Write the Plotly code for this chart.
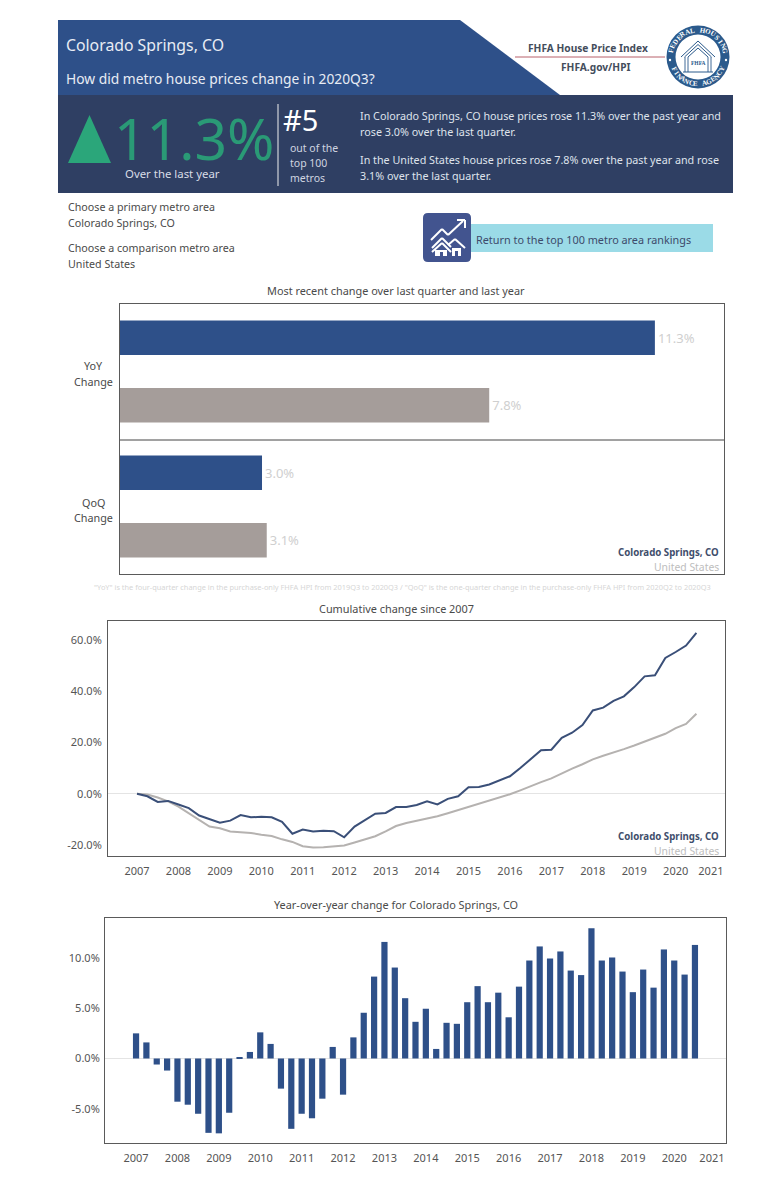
import math
import plotly.graph_objects as go

W, H = 783, 1200
FONT = "Noto Sans"

# ---------- data ----------
metrics = ["YoY", "QoQ"]
primary_name = "Colorado Springs, CO"
compare_name = "United States"
primary_recent = [11.3, 3.0]
compare_recent = [7.8, 3.1]

quarters = [y + q / 4 for y in range(2007, 2021) for q in range(4)][:55]

cum_primary = [0, -1, -3.2, -2.8, -4.2, -5.6, -8.5, -10, -11.3, -10.5, -8.3, -9.2,
               -9, -9.2, -11, -15.6, -14, -14.7, -14.4, -14.6, -17, -12.8, -10.4, -7.8,
               -7.5, -5.2, -5.2, -4.4, -3, -4.2, -2, -1, 2.5, 2.6, 3.6, 5.3,
               6.8, 10, 13.5, 17, 17.2, 21.8, 23.8, 26.8, 32.5, 33.6, 36.2, 38,
               41.6, 45.8, 46.2, 53, 55.3, 57.8, 62.8]
cum_compare = [0, -0.3, -1.5, -3, -5, -7.5, -10.3, -12.8, -13.5, -14.7, -15, -15.3,
               -16, -16.5, -17.8, -18.8, -20.5, -21, -20.9, -20.6, -20.2, -19, -17.8, -16.6,
               -14.7, -12.6, -11.4, -10.5, -9.6, -8.8, -7.6, -6.4, -5.2, -4, -2.8, -1.4,
               -0.2, 1.3, 3, 4.5, 6, 8, 9.8, 11.5, 13.4, 14.8, 16, 17.4,
               18.8, 20.3, 21.6, 23.4, 25.6, 27.2, 31.2]
yoy_primary = [2.5, 1.6, -0.6, -1.2, -4.3, -4.6, -5.5, -7.4, -7.45, -5.4, 0.1, 0.65,
               2.6, 1.45, -3, -7, -5.5, -5.95, -4, 1.15, -3.6, 2.1, 4.55, 8.15,
               11.6, 9.05, 6, 3.65, 4.95, 0.95, 3.55, 3.45, 5.6, 7.2, 5.6, 6.55,
               4.1, 7.15, 9.75, 11.15, 9.95, 10.65, 8.75, 8.3, 12.95, 9.75, 10.05, 8.65,
               6.6, 8.85, 7.05, 10.85, 9.75, 8.35, 11.3]

year_labels = [str(y) for y in range(2007, 2022)]
cum_tick_vals = [-20, 0, 20, 40, 60]
yoy_tick_vals = [-5, 0, 5, 10]

# ---------- colours ----------
NAVY = "#2e5089"
BAND = "#2f3f63"
LINE_NAVY = "#3a4f78"
GREY_BAR = "#a59d9a"
GREY_LINE = "#b5b2b0"
TXT = "#4a4a4a"
FRAME = "#5a5a5a"
LOGO = "#2b5a8c"


def px(x):
    return x / W


def py(y):
    return 1 - y / H


shapes, ann = [], []


def poly(points, fill, line=None, lw=0):
    path = "M " + " L ".join(f"{px(a):.5f},{py(b):.5f}" for a, b in points) + " Z"
    shapes.append(dict(type="path", xref="paper", yref="paper", path=path, fillcolor=fill,
                       line=dict(color=line or fill, width=lw), layer="below"))


def seg(x0, y0, x1, y1, color, lw=1, layer="above"):
    shapes.append(dict(type="line", xref="paper", yref="paper", x0=px(x0), y0=py(y0), x1=px(x1), y1=py(y1),
                       line=dict(color=color, width=lw), layer=layer))


def disc(x, y, r, color):
    shapes.append(dict(type="circle", xref="paper", yref="paper", x0=px(x - r), x1=px(x + r), y0=py(y + r), y1=py(y - r),
                       fillcolor=color, line=dict(color=color, width=0)))


def text(x, y, s, size=11, color=TXT, anchor="left", angle=0, family=FONT):
    ann.append(dict(xref="paper", yref="paper", x=px(x), y=py(y), text=s, showarrow=False, xanchor=anchor,
                    yanchor="middle", textangle=angle, font=dict(size=size, color=color, family=family),
                    borderpad=0, borderwidth=0))


# ---------- header ----------
poly([(58, 20), (460, 20), (560, 95), (58, 95)], NAVY)
poly([(58, 95), (733, 95), (733, 193), (58, 193)], BAND)
text(66, 45, primary_name, 15.8, "#e8ecf4")
text(66, 79, "How did metro house prices change in 2020Q3?", 13.8, "#e8ecf4")
poly([(68, 163), (111, 163), (89.5, 115)], "#2ba67a")
text(114, 138, "11.3%", 57, "#2a9a76")
text(172, 173, "Over the last year", 11.4, "#d8dce6", "center")
seg(278, 104, 278, 186, "#f0f0f0", 1)
text(283, 120, "#5", 29, "#ffffff")
text(290, 148, "out of the", 10.5, "#d0d5e0")
text(290, 163, "top 100", 10.5, "#d0d5e0")
text(290, 178, "metros", 10.5, "#d0d5e0")
text(360, 116, "In Colorado Springs, CO house prices rose 11.3% over the past year and", 10.75, "#dfe3ec")
text(360, 132, "rose 3.0% over the last quarter.", 10.75, "#dfe3ec")
text(360, 160, "In the United States house prices rose 7.8% over the past year and rose", 10.75, "#dfe3ec")
text(360, 176, "3.1% over the last quarter.", 10.75, "#dfe3ec")

# FHFA block
text(587.5, 48, "<b>FHFA House Price Index</b>", 10.2, "#444d5c", "center")
text(595, 67, "<b>FHFA.gov/HPI</b>", 10.2, "#444d5c", "center")
seg(515, 57, 665, 57, "#b8616a", 1)
cx, cy = 698, 57
disc(cx, cy, 31.5, LOGO)
disc(cx, cy, 22.5, "#ffffff")


def ring(s, start, stop, bottom=False):
    n = len(s)
    for i, ch in enumerate(s):
        if ch == " ":
            continue
        a = math.radians(start + (stop - start) * i / (n - 1))
        x, y = cx + 27 * math.sin(a), cy - 27 * math.cos(a)
        rot = math.degrees(a) + (180 if bottom else 0)
        text(x, y, f"<b>{ch}</b>", 7, "#ffffff", "center", rot, "Liberation Serif")


ring("FEDERAL HOUSING", -78, 78)
ring("FINANCE AGENCY", 243, 117, True)
disc(cx - 28, cy + 3, 1.2, "#ffffff")
disc(cx + 28, cy + 3, 1.2, "#ffffff")
for dx in (-13, -10, 10, 13):
    seg(cx + dx, 57, cx + dx, 72, LOGO, 0.9)
seg(cx - 15, 72, cx + 15, 72, LOGO, 1)
for off, lw in ((0, 1), (3.5, 1), (7, 1)):
    seg(cx - 17 + off, 57, cx, 41 + off, LOGO, lw)
    seg(cx + 17 - off, 57, cx, 41 + off, LOGO, lw)
text(cx, 63, "<b>FHFA</b>", 5.5, LOGO, "center", 0, "Liberation Serif")

# selectors
text(68, 207, "Choose a primary metro area", 10.7, TXT)
text(68, 223, primary_name, 10.7, TXT)
text(68, 248, "Choose a comparison metro area", 10.7, TXT)
text(68, 264, compare_name, 10.7, TXT)

# button
poly([(470, 224), (713, 224), (713, 252), (470, 252)], "#9bdbe7")
ICON = "#42548f"
ix0, ix1, iy0, iy1, ir = px(423), px(471), py(213), py(262), 5
rx, ry = ir / W, ir / H
shapes.append(dict(type="path", xref="paper", yref="paper", layer="below", fillcolor=ICON, line=dict(width=0, color=ICON),
                   path=f"M {ix0 + rx},{iy0} L {ix1 - rx},{iy0} Q {ix1},{iy0} {ix1},{iy0 - ry} L {ix1},{iy1 + ry} "
                        f"Q {ix1},{iy1} {ix1 - rx},{iy1} L {ix0 + rx},{iy1} Q {ix0},{iy1} {ix0},{iy1 + ry} "
                        f"L {ix0},{iy0 - ry} Q {ix0},{iy0} {ix0 + rx},{iy0} Z"))
for a in [((431, 240), (442, 229)), ((442, 229), (448, 235)), ((448, 235), (463, 221)),
          ((457, 220), (465, 220)), ((465, 220), (465, 228)),
          ((432, 248), (442, 238)), ((442, 238), (451, 247)), ((448, 245), (455, 239)), ((455, 239), (465, 248)),
          ((432, 252), (442, 243)), ((442, 243), (451, 252))]:
    seg(a[0][0], a[0][1], a[1][0], a[1][1], "#ffffff", 2)
poly([(435, 250), (447, 250), (447, 256), (435, 256)], "#ffffff")
poly([(452, 248), (461, 248), (461, 256), (452, 256)], "#ffffff")
poly([(440, 252), (443, 252), (443, 256), (440, 256)], ICON)
poly([(455, 251), (458, 251), (458, 256), (455, 256)], ICON)
shapes[-4]["layer"] = "above"; shapes[-3]["layer"] = "above"; shapes[-2]["layer"] = "above"; shapes[-1]["layer"] = "above"
text(476, 239, "Return to the top 100 metro area rankings", 10.85, "#3d4a6b")

# titles
text(396, 291, "Most recent change over last quarter and last year", 10.9, TXT, "center")
text(396, 608, "Cumulative change since 2007", 10.9, TXT, "center")
text(396, 904, "Year-over-year change for Colorado Springs, CO", 10.9, TXT, "center")
text(402, 587, "\"YoY\" is the four-quarter change in the purchase-only FHFA HPI from 2019Q3 to 2020Q3 / \"QoQ\" is the one-quarter change in the purchase-only FHFA HPI from 2020Q2 to 2020Q3",
     7.4, "#d6d6d6", "center")

# in-panel legends
for y0 in (552, 836):
    text(719, y0, f"<b>{primary_name}</b>", 9.7, "#3f4e6c", "right")
    text(719, y0 + 15, compare_name, 10.4, "#bdbdbd", "right")

# category labels for the first panel
text(93, 366, "YoY", 10.8, TXT, "center")
text(93, 381, "Change", 10.8, TXT, "center")
text(93, 502, "QoQ", 10.8, TXT, "center")
text(93, 517, "Change", 10.8, TXT, "center")
seg(120, 440, 724, 440, "#444444", 1)

fig = go.Figure()

# ---------- panel 1 ----------
pct = lambda v: [f"{a:.1f}%" for a in v]
for name, vals, col in ((primary_name, primary_recent, NAVY), (compare_name, compare_recent, GREY_BAR)):
    fig.add_trace(go.Bar(orientation="h", y=metrics, x=vals, name=name, marker=dict(color=col, line=dict(width=0)),
                         text=pct(vals), textposition="outside", cliponaxis=False,
                         textfont=dict(size=13, color="#cfcfcf", family=FONT), xaxis="x", yaxis="y"))

# ---------- panel 2 ----------
fig.add_trace(go.Scatter(x=quarters, y=cum_compare, mode="lines", name=compare_name,
                         line=dict(color=GREY_LINE, width=2), xaxis="x2", yaxis="y2"))
fig.add_trace(go.Scatter(x=quarters, y=cum_primary, mode="lines", name=primary_name,
                         line=dict(color=LINE_NAVY, width=2), xaxis="x2", yaxis="y2"))

# ---------- panel 3 ----------
fig.add_trace(go.Bar(x=quarters, y=yoy_primary, width=0.15, name=primary_name,
                     marker=dict(color=NAVY, line=dict(width=0)), xaxis="x3", yaxis="y3"))

frame = dict(showline=True, mirror=True, linecolor=FRAME, linewidth=1, showgrid=False, zeroline=False,
             tickfont=dict(size=11, color="#555555", family=FONT), ticks="")


def xdom(a, b):
    return [px(a), px(b)]


def ydom(top, bottom):
    return [py(bottom), py(top)]


fig.update_layout(
    width=W, height=H, autosize=False, margin=dict(l=0, r=0, t=0, b=0),
    paper_bgcolor="white", plot_bgcolor="white", showlegend=False,
    barmode="group", bargap=0, bargroupgap=0.49,
    shapes=shapes, annotations=ann, font=dict(family=FONT),
    xaxis=dict(frame, domain=xdom(120, 724), range=[0, 12.76], showticklabels=False, anchor="y"),
    yaxis=dict(frame, domain=ydom(304, 574), autorange="reversed", showticklabels=False, anchor="x", type="category"),
    xaxis2=dict(frame, domain=xdom(108, 725), range=[2006.3, 2021.19], anchor="y2",
                tickmode="array", tickvals=list(range(2007, 2021)) + [2020.85], ticktext=year_labels, ticklabelstandoff=5),
    yaxis2=dict(frame, domain=ydom(621, 856), range=[-24.3, 67.4], anchor="x2", tickmode="array",
                tickvals=cum_tick_vals, ticktext=[f"{v:.1f}%" for v in cum_tick_vals],
                zeroline=True, zerolinecolor="#e4e4e4", zerolinewidth=1, ticklabelstandoff=3),
    xaxis3=dict(frame, domain=xdom(105, 726), range=[2006.25, 2021.25], anchor="y3",
                tickmode="array", tickvals=list(range(2007, 2021)) + [2020.91], ticktext=year_labels, ticklabelstandoff=5),
    yaxis3=dict(frame, domain=ydom(918, 1143), range=[-8.41, 13.98], anchor="x3", tickmode="array",
                tickvals=yoy_tick_vals, ticktext=[f"{v:.1f}%" for v in yoy_tick_vals],
                zeroline=True, zerolinecolor="#e4e4e4", zerolinewidth=1, ticklabelstandoff=2),
)

fig.write_html("out.html", config={"displayModeBar": False},
               post_script="document.body.style.margin='0';document.body.style.overflow='hidden';")
